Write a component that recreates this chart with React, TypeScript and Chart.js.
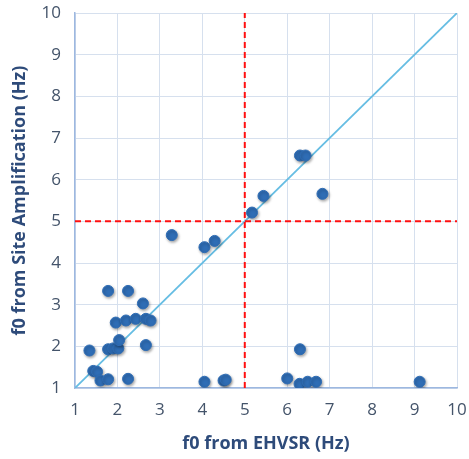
import React, { useEffect, useRef } from "react";
import { Chart, registerables } from "chart.js";

Chart.register(...registerables);

const ehvsrF0 = [
  1.34, 1.43, 1.52, 1.6, 1.78, 2.25, 1.78, 1.9, 2.02, 2.04, 2.67, 1.96, 2.2, 2.43, 2.67, 2.78, 2.6, 1.78, 2.25,
  3.28, 4.05, 4.29, 5.17, 5.44, 6.3, 6.43, 6.83,
  4.05, 4.5, 4.55, 6.0, 6.29, 6.48, 6.68, 9.12, 6.3,
];
const siteAmpF0 = [
  1.9, 1.41, 1.39, 1.18, 1.21, 1.22, 1.93, 1.95, 1.95, 2.15, 2.03, 2.57, 2.62, 2.66, 2.66, 2.62, 3.03, 3.33, 3.33,
  4.67, 4.38, 4.53, 5.21, 5.61, 6.58, 6.58, 5.66,
  1.15, 1.18, 1.2, 1.23, 1.1, 1.15, 1.15, 1.15, 1.93,
];
const axisMin = 1;
const axisMax = 10;
const threshold = 5;
const xTitle = "f0 from EHVSR (Hz)";
const yTitle = "f0 from Site Amplification (Hz)";

const shadowPlugin = {
  id: "pointShadow",
  beforeDatasetDraw(chart: any, args: any) {
    if (args.index === 0) {
      const ctx = chart.ctx;
      ctx.save();
      ctx.shadowColor = "rgba(0,0,0,0.35)";
      ctx.shadowBlur = 3;
      ctx.shadowOffsetX = 1;
      ctx.shadowOffsetY = 1.5;
    }
  },
  afterDatasetDraw(chart: any, args: any) {
    if (args.index === 0) chart.ctx.restore();
  },
};

export default function App() {
  const ref = useRef<HTMLCanvasElement>(null);
  useEffect(() => {
    document.body.style.margin = "0";
    const points = ehvsrF0.map((x, i) => ({ x, y: siteAmpF0[i] }));
    const chart = new Chart(ref.current!, {
      type: "scatter",
      data: {
        datasets: [
          {
            label: "f0",
            data: points,
            backgroundColor: "#2F6DB5",
            borderColor: "#2F6DB5",
            pointRadius: 5.5,
            order: 0,
          },
          {
            type: "line",
            label: "1:1",
            data: [
              { x: axisMin, y: axisMin },
              { x: axisMax, y: axisMax },
            ],
            borderColor: "#66BDE3",
            borderWidth: 1.8,
            pointRadius: 0,
            order: 2,
          },
          {
            type: "line",
            label: "v",
            data: [
              { x: threshold, y: axisMin },
              { x: threshold, y: axisMax },
            ],
            borderColor: "#FF1010",
            borderWidth: 2,
            borderDash: [6, 4],
            pointRadius: 0,
            order: 1,
          },
          {
            type: "line",
            label: "h",
            data: [
              { x: axisMin, y: threshold },
              { x: axisMax, y: threshold },
            ],
            borderColor: "#FF1010",
            borderWidth: 2,
            borderDash: [6, 4],
            pointRadius: 0,
            order: 1,
          },
        ],
      },
      options: {
        animation: false,
        responsive: false,
        layout: { padding: { top: 13, right: 12, left: 0, bottom: 0 } },
        plugins: { legend: { display: false }, tooltip: { enabled: false } },
        scales: {
          x: {
            type: "linear",
            min: axisMin,
            max: axisMax,
            ticks: {
              stepSize: 1,
              color: "#44546A",
              font: { family: "Open Sans", size: 17 },
              padding: 12,
            },
            grid: { color: "#D6E0EE", lineWidth: 1, drawTicks: false },
            border: { color: "#9DB8E0", width: 1.5 },
            title: {
              display: true,
              text: xTitle,
              color: "#2E4B7A",
              font: { family: "Open Sans", size: 18, weight: "bold" },
              padding: { top: 4 },
            },
            afterFit(scale: any) {
              scale.height = 71;
              scale.paddingLeft = 0;
              scale.paddingRight = 0;
            },
          },
          y: {
            type: "linear",
            min: axisMin,
            max: axisMax,
            ticks: {
              stepSize: 1,
              color: "#44546A",
              font: { family: "Open Sans", size: 17 },
              padding: 14,
            },
            grid: { color: "#D6E0EE", lineWidth: 1, drawTicks: false },
            border: { color: "#9DB8E0", width: 1.5 },
            title: {
              display: true,
              text: yTitle,
              color: "#2E4B7A",
              font: { family: "Open Sans", size: 18, weight: "bold" },
              padding: { top: 9, bottom: 4 },
            },
            afterFit(scale: any) {
              scale.width = 75;
              scale.paddingTop = 0;
              scale.paddingBottom = 0;
            },
          },
        },
      },
      plugins: [shadowPlugin],
    } as any);
    return () => chart.destroy();
  }, []);
  return <canvas ref={ref} width={469} height={459} style={{ display: "block" }} />;
}
